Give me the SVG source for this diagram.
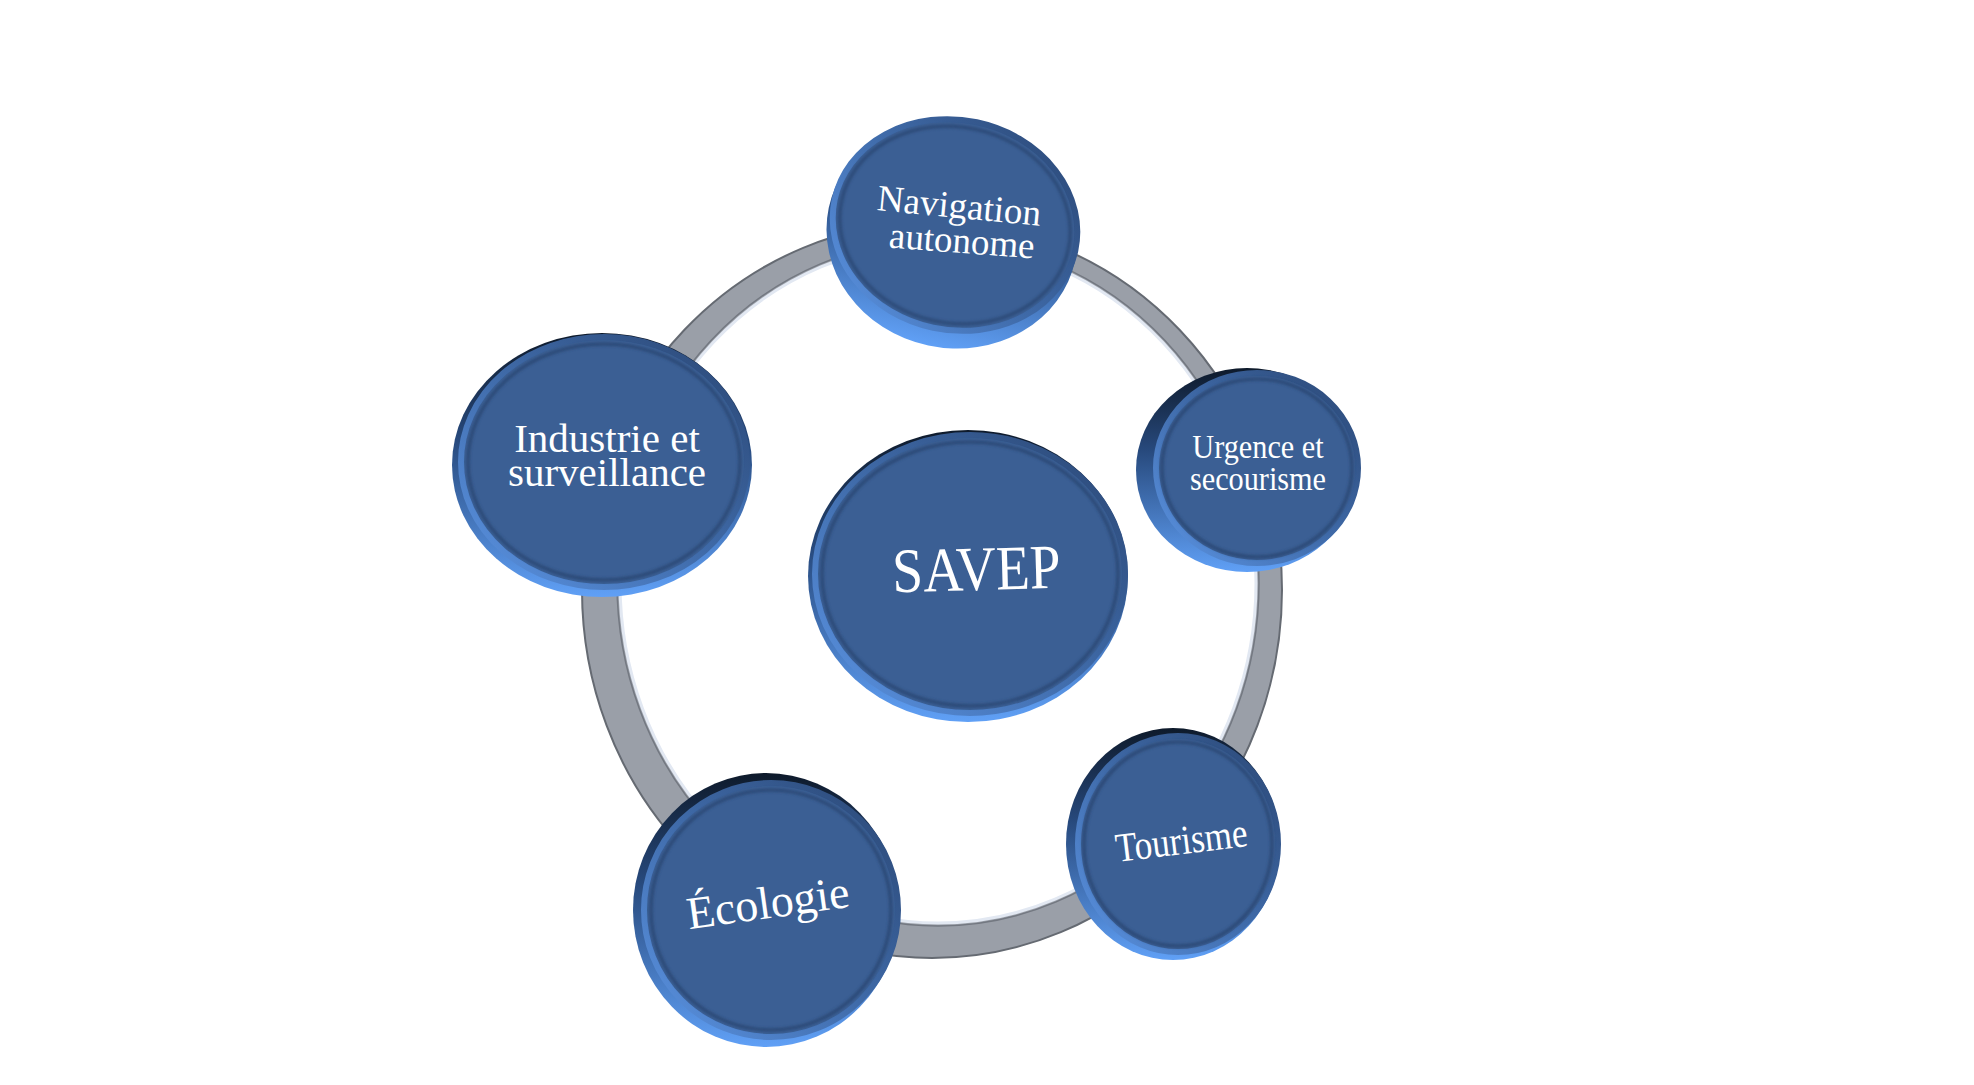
<svg xmlns="http://www.w3.org/2000/svg" width="1974" height="1085" viewBox="0 0 1974 1085">
  <defs>
    <linearGradient id="side" x1="0" y1="0" x2="0" y2="1">
      <stop offset="0" stop-color="#0e1a2b"/>
      <stop offset="0.4" stop-color="#27497c"/>
      <stop offset="1" stop-color="#60a0f6"/>
    </linearGradient>
    <linearGradient id="rim" x1="1" y1="0" x2="0" y2="1">
      <stop offset="0" stop-color="#2a4673"/>
      <stop offset="0.5" stop-color="#3f6aa8"/>
      <stop offset="1" stop-color="#5b94e4"/>
    </linearGradient>
    <filter id="blur" x="-10%" y="-10%" width="120%" height="120%">
      <feGaussianBlur stdDeviation="1.6"/>
    </filter>
  </defs>
  <style>
    .side { fill: url(#side); }
    .face { fill: #3b5f94; stroke: url(#rim); stroke-width: 6; }
    .bevel { fill: none; stroke: #233d66; stroke-width: 3; opacity: 0.7; filter: url(#blur); }
    .lbl { font-family: "Liberation Serif", "Times New Roman", serif; fill: #ffffff; text-anchor: middle; }
    .ringfill { fill: #9a9fa8; fill-rule: evenodd; }
    .ringout { fill: none; stroke: #656a72; stroke-width: 2; }
    .ringin { fill: none; stroke: #e2e8f2; stroke-width: 3; }
    .ringin2 { fill: none; stroke: #737881; stroke-width: 1.5; }
  </style>
  <rect width="1974" height="1085" fill="#ffffff"/>

  <g id="connectors">
    <path class="ringfill" d="M582,590 a350,368 0 1,0 700,0 a350,368 0 1,0 -700,0 Z M620,583 a318,340 0 1,0 636,0 a318,340 0 1,0 -636,0 Z"/>
    <ellipse class="ringout" cx="932" cy="590" rx="350" ry="368"/>
    <ellipse class="ringin" cx="938" cy="583" rx="318" ry="340"/>
    <ellipse class="ringin2" cx="938" cy="583" rx="321" ry="343"/>
  </g>

  <g id="node-savep">
    <ellipse class="side" cx="968" cy="576" rx="160" ry="146"/>
    <ellipse class="face" cx="970" cy="574" rx="155" ry="139"/>
    <ellipse class="bevel" cx="970" cy="574" rx="148" ry="132"/>
    <text class="lbl" font-size="63" transform="translate(977,590) rotate(-1.6) scale(0.88,1)">SAVEP</text>
  </g>

  <g id="node-navigation">
    <ellipse class="side" cx="952" cy="234" rx="126" ry="114" transform="rotate(12 952 234)"/>
    <ellipse class="face" cx="955" cy="225" rx="123" ry="105" transform="rotate(12 955 225)"/>
    <ellipse class="bevel" cx="955" cy="225" rx="116" ry="98" transform="rotate(12 955 225)"/>
    <text class="lbl" font-size="37" transform="translate(958,218) rotate(5.5)">Navigation</text>
    <text class="lbl" font-size="37" transform="translate(961,253) rotate(4.3)">autonome</text>
  </g>

  <g id="node-industrie">
    <ellipse class="side" cx="602" cy="465" rx="150" ry="132"/>
    <ellipse class="face" cx="604" cy="462" rx="143" ry="125"/>
    <ellipse class="bevel" cx="604" cy="462" rx="136" ry="118"/>
    <text class="lbl" font-size="41" x="607" y="452">Industrie et</text>
    <text class="lbl" font-size="41" x="607" y="486">surveillance</text>
  </g>

  <g id="node-urgence">
    <ellipse class="side" cx="1247" cy="470" rx="111" ry="102"/>
    <ellipse class="face" cx="1257" cy="468" rx="101" ry="95"/>
    <ellipse class="bevel" cx="1257" cy="468" rx="95" ry="89"/>
    <text class="lbl" font-size="34" transform="translate(1258,458) scale(0.89,1)">Urgence et</text>
    <text class="lbl" font-size="34" transform="translate(1258,490) scale(0.89,1)">secourisme</text>
  </g>

  <g id="node-tourisme">
    <ellipse class="side" cx="1173" cy="844" rx="107" ry="116"/>
    <ellipse class="face" cx="1178" cy="844" rx="100" ry="108"/>
    <ellipse class="bevel" cx="1178" cy="844" rx="94" ry="102"/>
    <text class="lbl" font-size="41" transform="translate(1183,854) rotate(-7) scale(0.86,1)">Tourisme</text>
  </g>

  <g id="node-ecologie">
    <ellipse class="side" cx="766" cy="910" rx="133" ry="137"/>
    <ellipse class="face" cx="771" cy="910" rx="127" ry="127"/>
    <ellipse class="bevel" cx="771" cy="910" rx="120" ry="120"/>
    <text class="lbl" font-size="46" transform="translate(770,918) rotate(-7.9)">Écologie</text>
  </g>
</svg>
